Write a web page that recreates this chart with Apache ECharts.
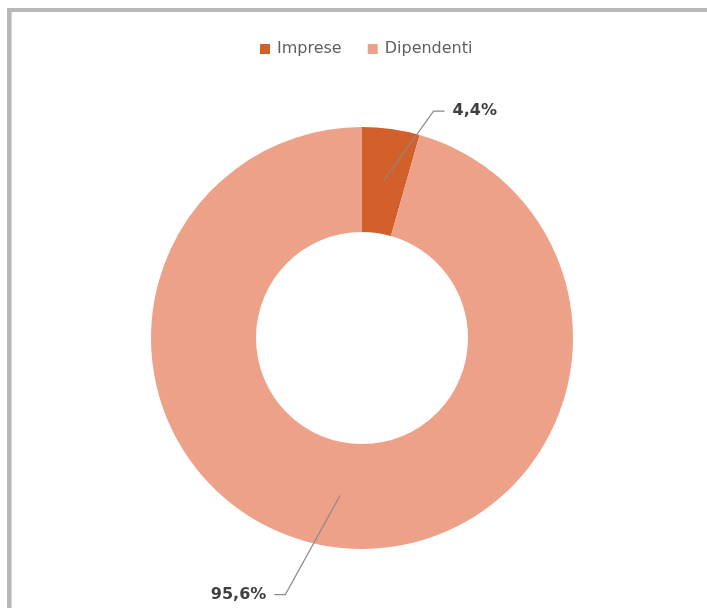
<!DOCTYPE html>
<html>
<head>
<meta charset="utf-8">
<style>
  html, body { margin: 0; padding: 0; background: #ffffff; }
  #chart { width: 707px; height: 608px; }
</style>
<script src="https://cdn.jsdelivr.net/npm/echarts@6/dist/echarts.min.js"></script>
</head>
<body>
<div id="chart"></div>
<script>
var categories = ['Imprese', 'Dipendenti'];
var shares = [4.4, 95.6];
var sliceColors = ['#d35f2b', '#eea189'];
var lineLengths = [70, 100];
var lineLengths2 = [51, 52];

var chart = echarts.init(document.getElementById('chart'), null, { renderer: 'canvas' });

var ringData = categories.map(function (c, i) {
  return { name: c, value: shares[i], itemStyle: { color: sliceColors[i] } };
});
var labelData = categories.map(function (c, i) {
  return {
    name: c, value: shares[i],
    labelLine: { length: lineLengths[i], length2: lineLengths2[i] }
  };
});

var option = {
  backgroundColor: '#ffffff',
  animation: false,
  graphic: [
    { type: 'rect', shape: { x: 7, y: 8, width: 700, height: 4 }, style: { fill: '#b8b8b8' }, silent: true },
    { type: 'rect', shape: { x: 7, y: 8, width: 4, height: 600 }, style: { fill: '#b8b8b8' }, silent: true },
    { type: 'rect', shape: { x: 11, y: 12, width: 1, height: 596 }, style: { fill: '#d6d6d6' }, silent: true }
  ],
  legend: {
    data: categories,
    left: 255,
    top: 36,
    icon: 'rect',
    itemWidth: 10,
    itemHeight: 10,
    itemGap: 26,
    selectedMode: false,
    textStyle: { fontFamily: 'DejaVu Sans', fontSize: 16, color: '#5f5f5f', padding: [0, 0, 0, 2] }
  },
  series: [
    {
      type: 'pie',
      z: 2,
      center: [362, 338],
      radius: [106, 211],
      startAngle: 90,
      clockwise: true,
      silent: true,
      label: { show: false },
      labelLine: { show: false },
      itemStyle: { borderWidth: 0 },
      data: ringData
    },
    {
      type: 'pie',
      z: 6,
      center: [362, 338],
      radius: [0, 159],
      startAngle: 90,
      clockwise: true,
      silent: true,
      avoidLabelOverlap: false,
      itemStyle: { color: 'rgba(0,0,0,0)', borderWidth: 0 },
      label: {
        show: true,
        position: 'outside',
        distanceToLabelLine: 8,
        fontFamily: 'DejaVu Sans',
        fontSize: 16,
        fontWeight: 'bold',
        color: '#404040',
        formatter: function (p) { return String(p.value).replace('.', ',') + '%'; }
      },
      labelLine: {
        show: true,
        lineStyle: { color: '#8a8a8a', width: 1.2 }
      },
      labelLayout: function (params) {
        var pts = params.labelLinePoints;
        if (!pts || pts.length < 3) return {};
        var dir = pts[2][0] >= pts[1][0] ? 1 : -1;
        pts[1][0] = pts[2][0] - dir * 11;
        return { labelLinePoints: pts };
      },
      data: labelData
    }
  ]
};
chart.setOption(option);
</script>
</body>
</html>
